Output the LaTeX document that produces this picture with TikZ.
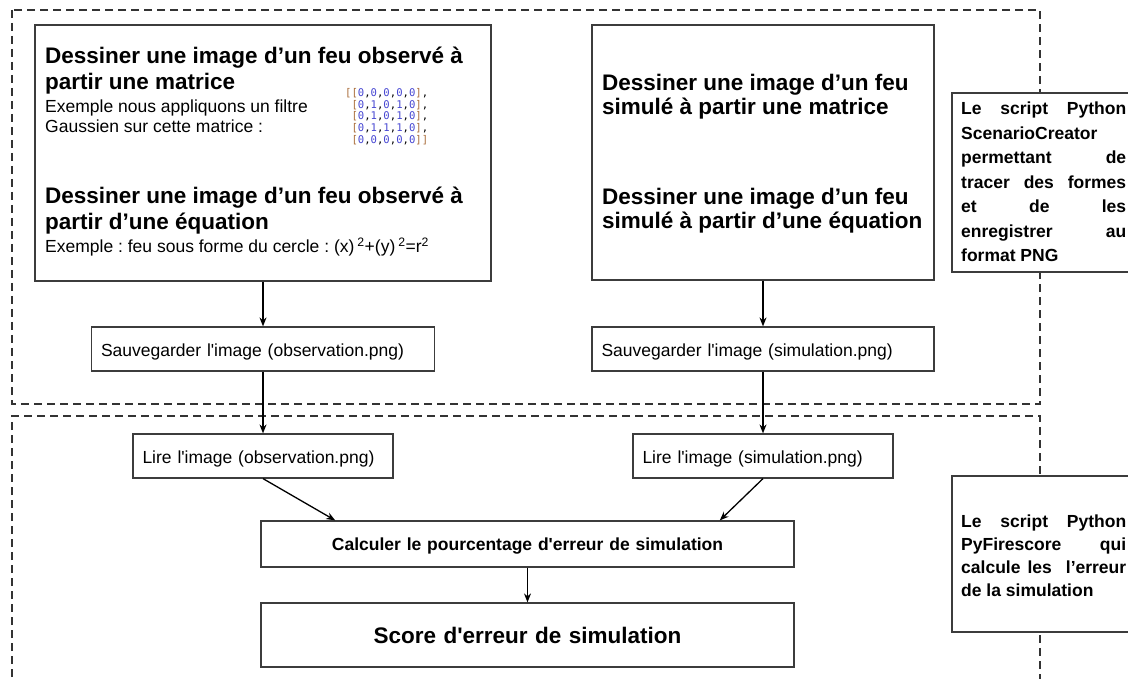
\documentclass[tikz,border=0pt]{standalone}
\usepackage{fontspec}
\setmainfont{Liberation Sans}
\newfontfamily\gridfont{DejaVu Sans Mono}
\usetikzlibrary{arrows.meta}
\frenchspacing

\definecolor{gridbrk}{RGB}{170,110,60}
\definecolor{griddig}{RGB}{70,70,210}
\definecolor{boxline}{RGB}{60,60,60}

% one row of the example matrix
\newcommand{\gb}[1]{\textcolor{gridbrk}{#1}}
\newcommand{\gd}[1]{\textcolor{griddig}{#1}}
\newcommand{\gridrow}[5]{\gb{[}\gd{#1},\gd{#2},\gd{#3},\gd{#4},\gd{#5}\gb{]}}

\tikzset{
  zone/.style={draw=black!80, line width=1.8pt, dash pattern=on 8pt off 5pt},
  bigbox/.style={draw=boxline, line width=1.2pt, fill=white, inner sep=0pt},
  headtxt/.style={font=\bfseries\fontsize{22.5}{26.7}\selectfont, align=left, inner sep=0pt},
  bodytxt/.style={font=\fontsize{17.5}{20}\selectfont, align=left, inner sep=0pt},
  stepbox/.style={draw=boxline, line width=1.2pt, fill=white, minimum height=44pt,
    inner xsep=9.5pt, inner ysep=0pt, text height=14pt, text depth=0pt,
    align=left, font=\fontsize{17.5}{21}\selectfont},
  notetxt/.style={font=\bfseries\fontsize{17.5}{24.5}\selectfont, text width=165pt,
    align=justify, inner sep=0pt},
  flow/.style={-{Stealth[length=9pt,width=7pt]}, line width=1.3pt}
}

\begin{document}
\begin{tikzpicture}[x=1pt, y=-1pt]
  \path[use as bounding box] (0,0) rectangle (1128,679);
  \clip (0,0) rectangle (1128,679);

  % dashed zones of the two scripts
  \draw[zone] (12,10) rectangle (1040,404);
  \draw[zone] (12,690) -- (12,416) -- (1040,416) -- (1040,690);

  % observed fire (multi-line texts sit on their last baseline)
  \node[bigbox, minimum width=456pt, minimum height=256pt] (obsbox) at (263,153) {};
  \node[headtxt, anchor=base west] (obshead1) at (45,90)
    {Dessiner une image d’un feu observé à\\partir une matrice};
  \node[bodytxt, anchor=base west] (obsnote1) at (45,133)
    {Exemple nous appliquons un filtre\\Gaussien sur cette matrice :};
  \node[align=left, inner sep=0pt, anchor=base west,
        font=\gridfont\fontsize{10.6}{11.75}\selectfont] (obsgrid) at (345,143.5)
    {\gb{[}\gridrow{0}{0}{0}{0}{0},\\
     \phantom{[}\gridrow{0}{1}{0}{1}{0},\\
     \phantom{[}\gridrow{0}{1}{0}{1}{0},\\
     \phantom{[}\gridrow{0}{1}{1}{1}{0},\\
     \phantom{[}\gridrow{0}{0}{0}{0}{0}\gb{]}};
  \node[headtxt, anchor=base west] (obshead2) at (45,230)
    {Dessiner une image d’un feu observé à\\partir d’une équation};
  \node[bodytxt, anchor=base west] (obsnote2) at (45,253)
    {Exemple : feu sous forme du cercle : (x)\,\textsuperscript{2}+(y)\,\textsuperscript{2}=r\textsuperscript{2}};

  % simulated fire
  \node[bigbox, minimum width=342pt, minimum height=255pt] (simbox) at (763,152.5) {};
  \node[headtxt, font=\bfseries\fontsize{22.5}{24.5}\selectfont, anchor=base west] (simhead1) at (602,115)
    {Dessiner une image d’un feu\\simulé à partir une matrice};
  \node[headtxt, font=\bfseries\fontsize{22.5}{24.5}\selectfont, anchor=base west] (simhead2) at (602,229)
    {Dessiner une image d’un feu\\simulé à partir d’une équation};

  % saving and reading
  \node[stepbox, text width=324pt] (obssave) at (263,349) {Sauvegarder l\textquotesingle image (observation.png)};
  \node[stepbox, text width=323pt] (simsave) at (763,349) {Sauvegarder l\textquotesingle image (simulation.png)};
  \node[stepbox, text width=241pt] (obsread) at (263,456) {Lire l\textquotesingle image (observation.png)};
  \node[stepbox, text width=241pt] (simread) at (763,456) {Lire l\textquotesingle image (simulation.png)};

  % error score
  \node[stepbox, text width=514pt, align=center, minimum height=46pt, text height=12pt,
        font=\bfseries\fontsize{17.5}{21}\selectfont] (errcalc) at (527.5,544)
    {Calculer le pourcentage d\textquotesingle erreur de simulation};
  \node[stepbox, text width=514pt, align=center, minimum height=64pt, text height=16pt,
        font=\bfseries\fontsize{22.5}{26}\selectfont] (errscore) at (527.5,635)
    {Score d\textquotesingle erreur de simulation};

  % side notes
  \node[bigbox, minimum width=190pt, minimum height=179pt] (scenbox) at (1047,182.5) {};
  \node[notetxt, anchor=base west] (scentxt) at (961,115)
    {\tolerance=10000 \hyphenpenalty=10000 Le script Python\linebreak ScenarioCreator\linebreak
     permettant de\linebreak tracer des formes\linebreak et de les\linebreak
     enregistrer au\linebreak format PNG};
  \node[bigbox, minimum width=190pt, minimum height=156pt] (firebox) at (1047,554) {};
  \node[notetxt, font=\bfseries\fontsize{17.5}{23}\selectfont, anchor=base west] (firetxt) at (961,527)
    {\tolerance=10000 \hyphenpenalty=10000 Le script Python\linebreak PyFirescore qui\linebreak
     calcule les\ \ l’erreur\linebreak de la simulation};

  % connectors
  \draw[flow] (obsbox) -- (obssave);
  \draw[flow] (obssave) -- (obsread);
  \draw[flow] (simbox) -- (simsave);
  \draw[flow] (simsave) -- (simread);
  \draw[flow] (obsread.south) -- (errcalc.173.9);
  \draw[flow] (simread.south) -- (errcalc.7.1);
  \draw[flow] (errcalc) -- (errscore);

\end{tikzpicture}
\end{document}
